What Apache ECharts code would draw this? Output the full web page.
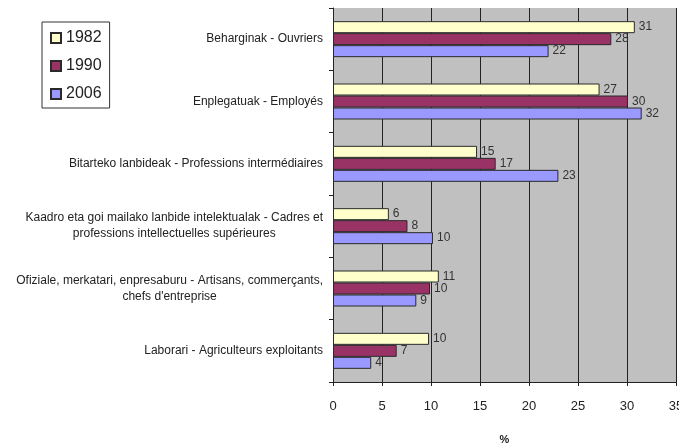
<!DOCTYPE html>
<html>
<head>
<meta charset="utf-8">
<script src="https://cdn.jsdelivr.net/npm/echarts@6/dist/echarts.min.js"></script>
<style>html,body{margin:0;padding:0;background:#fff}#c{width:679px;height:447px}</style>
</head>
<body>
<div id="c"></div>
<script>
var categories = [
  'Beharginak - Ouvriers',
  'Enplegatuak - Employés',
  'Bitarteko lanbideak - Professions intermédiaires',
  'Kaadro eta goi mailako lanbide intelektualak - Cadres et\nprofessions intellectuelles supérieures',
  'Ofiziale, merkatari, enpresaburu - Artisans, commerçants,\nchefs d\'entreprise',
  'Laborari - Agriculteurs exploitants'
];
var years = ['1982', '1990', '2006'];
var v1982 = [30.8, 27.2, 14.7, 5.7, 10.8, 9.8];
var v1990 = [28.4, 30.1, 16.6, 7.6, 9.9, 6.5];
var v2006 = [22.0, 31.5, 23.0, 10.2, 8.5, 3.9];
var xTicks = [0, 5, 10, 15, 20, 25, 30, 35];

var colors = ['#ffffcc', '#993366', '#9999ff'];
var FONT = '"Liberation Sans", Arial, sans-serif';

function mkSeries(name, data, color) {
  return {
    name: name,
    type: 'bar',
    data: data,
    barWidth: 12,
    barGap: '0%',
    itemStyle: { color: color, borderColor: '#2a2a2a', borderWidth: 1 },
    label: {
      show: true,
      position: 'right',
      distance: 4,
      color: '#333',
      fontSize: 12,
      fontFamily: FONT,
      formatter: function (p) { return Math.round(p.value); }
    }
  };
}

var chart = echarts.init(document.getElementById('c'));
chart.setOption({
  animation: false,
  backgroundColor: '#fff',
  textStyle: { fontFamily: FONT },
  grid: {
    left: 333, right: 3, top: 8, bottom: 65,
    outerBoundsMode: 'none',
    containLabel: false,
    show: true, backgroundColor: '#c0c0c0', borderWidth: 0
  },
  legend: {
    orient: 'vertical',
    left: 42, top: 22,
    padding: [8, 8, 6, 8],
    itemGap: 12,
    itemWidth: 10, itemHeight: 10,
    icon: 'rect',
    borderColor: '#333', borderWidth: 1,
    backgroundColor: '#fff',
    data: years,
    textStyle: { fontSize: 16, color: '#222', fontFamily: FONT }
  },
  xAxis: {
    type: 'value',
    min: xTicks[0], max: xTicks[xTicks.length - 1], interval: 5,
    name: '%',
    nameLocation: 'middle',
    nameGap: 52,
    nameTextStyle: { fontSize: 11, fontWeight: 'bold', color: '#222' },
    axisLine: { show: true, lineStyle: { color: '#222', width: 1 } },
    axisTick: { show: true, length: 4, lineStyle: { color: '#222' } },
    axisLabel: { fontSize: 13, color: '#222', margin: 18, showMaxLabel: true },
    splitLine: { show: true, lineStyle: { color: '#222', width: 1 } }
  },
  yAxis: {
    type: 'category',
    inverse: true,
    data: categories,
    axisLine: { show: true, lineStyle: { color: '#222', width: 1 } },
    axisTick: { show: true, length: 4, lineStyle: { color: '#222' } },
    axisLabel: {
      fontSize: 12, color: '#222', margin: 10, lineHeight: 16,
      formatter: function (v) {
        return v.split('\n').map(function (l) { return '{c|' + l + '}'; }).join('\n');
      },
      rich: { c: { align: 'center', fontSize: 12, color: '#222', lineHeight: 16, fontFamily: FONT } }
    },
    splitLine: { show: false }
  },
  series: [
    mkSeries(years[0], v1982, colors[0]),
    mkSeries(years[1], v1990, colors[1]),
    mkSeries(years[2], v2006, colors[2])
  ]
});
</script>
</body>
</html>
